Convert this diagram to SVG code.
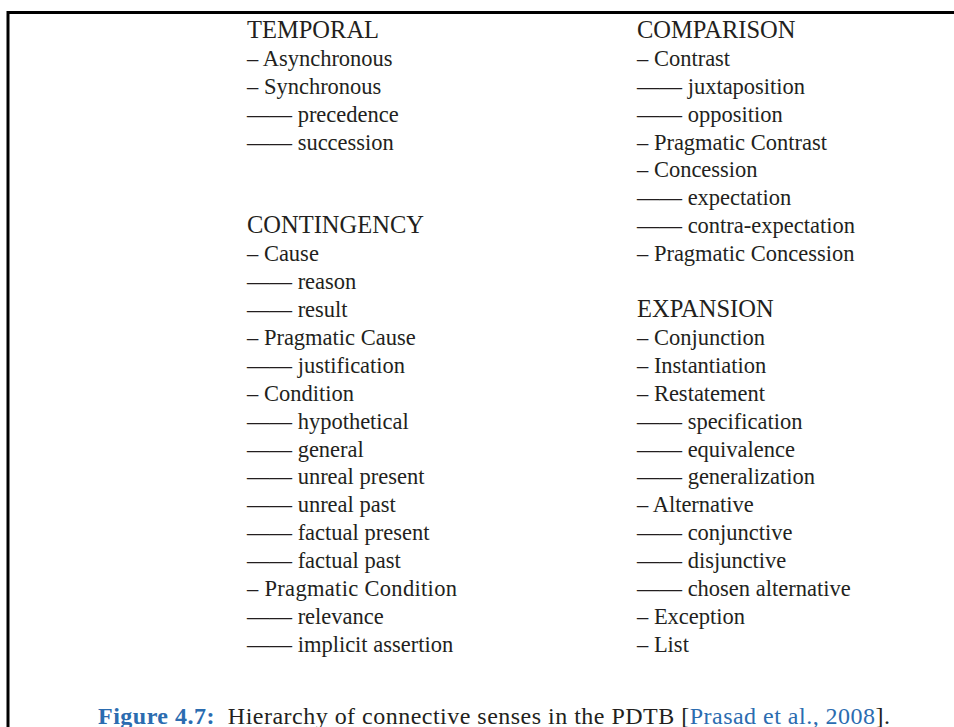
<svg xmlns="http://www.w3.org/2000/svg" width="954" height="727" viewBox="0 0 954 727">
  <style>
    .t { font-family: "Liberation Serif", "DejaVu Serif", serif; font-size: 22.5px; fill: #231f20; }
    .h { font-size: 24.5px; }
    .cap { font-family: "Liberation Serif", "DejaVu Serif", serif; font-size: 24px; fill: #231f20; }
    .blue { fill: #2b6cb0; }
    .frame { stroke: #000; stroke-width: 3; fill: none; }
  </style>
  <rect width="954" height="727" fill="#ffffff"/>

  <!-- frame: top and left rules -->
  <path class="frame" d="M8 727 V12.5 H954"/>

  <!-- left column -->
  <g id="temporal" class="t">
    <text class="h" x="247" y="38">TEMPORAL</text>
    <text x="247" y="66">– Asynchronous</text>
    <text x="247" y="94">– Synchronous</text>
    <text x="247" y="122">—— precedence</text>
    <text x="247" y="150">—— succession</text>
  </g>

  <g id="contingency" class="t">
    <text class="h" x="247" y="233">CONTINGENCY</text>
    <text x="247" y="261">– Cause</text>
    <text x="247" y="289">—— reason</text>
    <text x="247" y="317">—— result</text>
    <text x="247" y="345">– Pragmatic Cause</text>
    <text x="247" y="373">—— justification</text>
    <text x="247" y="401">– Condition</text>
    <text x="247" y="429">—— hypothetical</text>
    <text x="247" y="457">—— general</text>
    <text x="247" y="484">—— unreal present</text>
    <text x="247" y="512">—— unreal past</text>
    <text x="247" y="540">—— factual present</text>
    <text x="247" y="568">—— factual past</text>
    <text x="247" y="596" textLength="210">– Pragmatic Condition</text>
    <text x="247" y="624">—— relevance</text>
    <text x="247" y="652">—— implicit assertion</text>
  </g>

  <!-- right column -->
  <g id="comparison" class="t">
    <text class="h" x="637" y="38">COMPARISON</text>
    <text x="637" y="66">– Contrast</text>
    <text x="637" y="94">—— juxtaposition</text>
    <text x="637" y="122">—— opposition</text>
    <text x="637" y="150">– Pragmatic Contrast</text>
    <text x="637" y="177">– Concession</text>
    <text x="637" y="205">—— expectation</text>
    <text x="637" y="233">—— contra-expectation</text>
    <text x="637" y="261">– Pragmatic Concession</text>
  </g>

  <g id="expansion" class="t">
    <text class="h" x="637" y="317">EXPANSION</text>
    <text x="637" y="345">– Conjunction</text>
    <text x="637" y="373">– Instantiation</text>
    <text x="637" y="401">– Restatement</text>
    <text x="637" y="429">—— specification</text>
    <text x="637" y="457">—— equivalence</text>
    <text x="637" y="484">—— generalization</text>
    <text x="637" y="512">– Alternative</text>
    <text x="637" y="540">—— conjunctive</text>
    <text x="637" y="568">—— disjunctive</text>
    <text x="637" y="596">—— chosen alternative</text>
    <text x="637" y="624">– Exception</text>
    <text x="637" y="652">– List</text>
  </g>

  <!-- caption -->
  <g id="caption">
    <text class="cap" x="98" y="724" textLength="792" xml:space="preserve"><tspan class="blue" font-weight="bold">Figure 4.7:</tspan>  Hierarchy of connective senses in the PDTB [<tspan class="blue">Prasad et al., 2008</tspan>].</text>
  </g>
</svg>
